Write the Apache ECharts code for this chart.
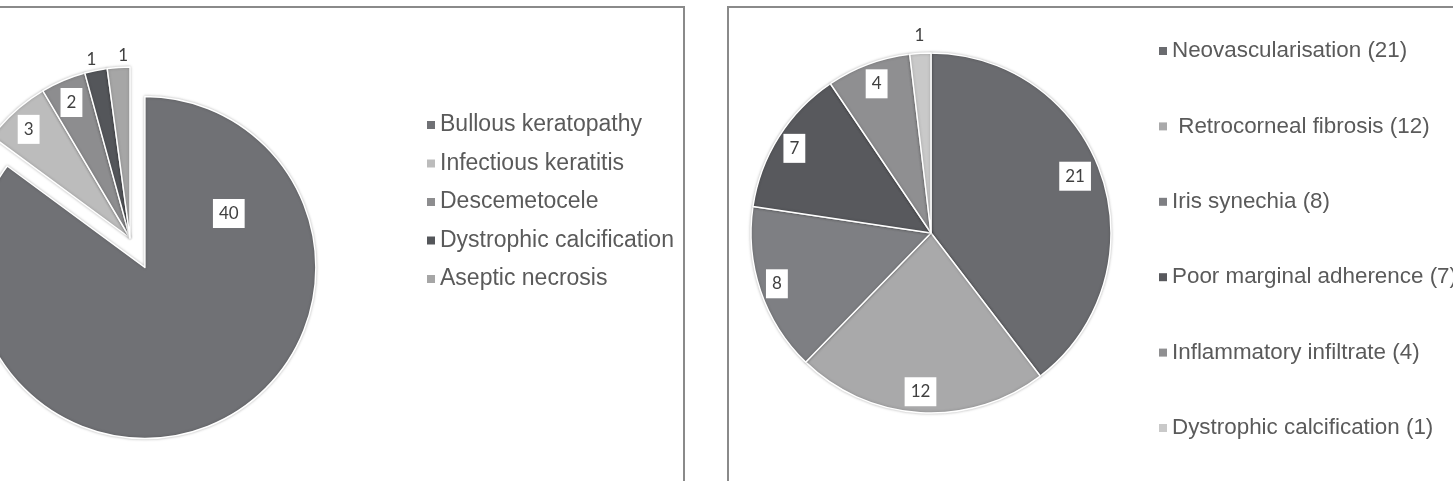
<!DOCTYPE html>
<html>
<head>
<meta charset="utf-8">
<script src="https://cdn.jsdelivr.net/npm/echarts@6/dist/echarts.min.js"></script>
<style>
  html, body { margin: 0; padding: 0; background: #fff; overflow: hidden; }
  .frame { position: absolute; border: 2px solid #8a8a8a; box-sizing: border-box; }
  #chart { position: absolute; left: 0; top: 0; width: 1453px; height: 481px; }
</style>
</head>
<body>
<div class="frame" style="left:-10px; top:6px; width:695px; height:600px"></div>
<div class="frame" style="left:727px; top:6px; width:800px; height:600px"></div>
<div id="chart"></div>
<script>
// left pie: indications
var leftNames = ['Bullous keratopathy', 'Infectious keratitis', 'Descemetocele', 'Dystrophic calcification', 'Aseptic necrosis']
var leftValues = [40, 3, 2, 1, 1]
var leftColors = ['#707175', '#bcbcbc', '#8d8d8f', '#54565a', '#a6a6a6']
// right pie: complications
var rightNames = ['Neovascularisation (21)', ' Retrocorneal fibrosis (12)', 'Iris synechia (8)', 'Poor marginal adherence (7)', 'Inflammatory infiltrate (4)', 'Dystrophic calcification (1)']
var rightValues = [21, 12, 8, 7, 4, 1]
var rightColors = ['#6a6b6f', '#a9a9aa', '#7e7f83', '#58595d', '#8f8f91', '#c9c9c9']

// label nudges from the default inside position (Excel "best fit" look)
var leftLabelShift = [[44, -133], [-42, -43], [-24, -54], [-21, -92], [-1, -94]]
var rightLabelShift = [[56, -27], [-5, 66], [-66, 21], [-58, -35], [-22, -62], [-6, -105]]
var boxedLeft = [true, true, true, false, false]
var boxedRight = [true, true, true, true, true, false]

function makeData (names, values, colors, boxed, explodeFirst) {
  var out = []
  for (var i = 0; i < names.length; i++) {
    var item = {
      name: names[i],
      value: values[i],
      itemStyle: { color: colors[i] },
      select: { itemStyle: { color: colors[i], borderColor: '#fff', borderWidth: 1.5 } },
      label: boxed[i] ? {} : { backgroundColor: 'transparent' }
    }
    if (explodeFirst && i === 0) item.selected = true
    out.push(item)
  }
  return out
}

var labelBase = {
  show: true,
  position: 'inside',
  formatter: '{c}',
  fontFamily: 'Lato',
  fontSize: 17,
  color: '#404040',
  backgroundColor: '#fff',
  padding: [5, 6, 5, 6],
  lineHeight: 19
}

function legendFor (names, left, top, gap, size) {
  return {
    data: names,
    left: left,
    top: top,
    itemGap: gap,
    padding: 0,
    orient: 'vertical',
    icon: 'rect',
    itemWidth: 8,
    itemHeight: 8,
    itemStyle: { borderWidth: 0, shadowBlur: 0 },
    selectedMode: false,
    textStyle: { fontFamily: 'Liberation Sans', fontSize: size, color: '#5a5a5a', lineHeight: 24 }
  }
}

var chart = echarts.init(document.getElementById('chart'))
chart.setOption({
  animation: false,
  legend: [
    legendFor(leftNames, 427, 113, 14.5, 23),
    legendFor(rightNames, 1159, 39, 51.4, 22.4)
  ],
  series: [
    {
      type: 'pie',
      center: [130, 238],
      radius: 171,
      startAngle: 90,
      selectedMode: 'single',
      selectedOffset: 33,
      avoidLabelOverlap: false,
      label: labelBase,
      labelLine: { show: false },
      itemStyle: { borderColor: '#fff', borderWidth: 1.5, shadowColor: 'rgba(0,0,0,0.25)', shadowBlur: 3 },
      emphasis: { disabled: true },
      labelLayout: function (p) {
        var s = leftLabelShift[p.dataIndex]
        return { dx: s[0], dy: s[1] }
      },
      data: makeData(leftNames, leftValues, leftColors, boxedLeft, true)
    },
    {
      type: 'pie',
      center: [931, 233],
      radius: 180,
      startAngle: 90,
      avoidLabelOverlap: false,
      label: labelBase,
      labelLine: { show: false },
      itemStyle: { borderColor: '#fff', borderWidth: 1.5, shadowColor: 'rgba(0,0,0,0.25)', shadowBlur: 3 },
      emphasis: { disabled: true },
      labelLayout: function (p) {
        var s = rightLabelShift[p.dataIndex]
        return { dx: s[0], dy: s[1] }
      },
      data: makeData(rightNames, rightValues, rightColors, boxedRight, false)
    }
  ]
})
</script>
</body>
</html>
